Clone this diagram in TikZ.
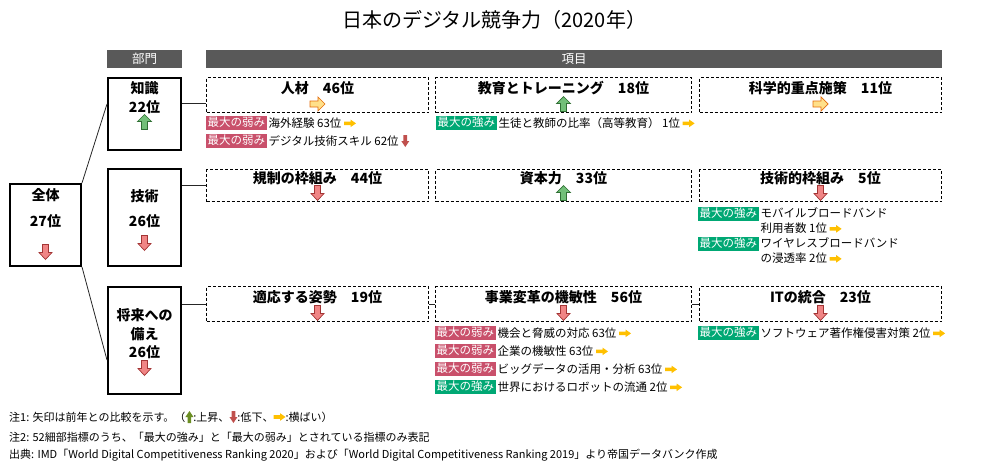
\documentclass[tikz,border=0pt]{standalone}
\usepackage{fontspec}
\setmainfont{Noto Sans CJK JP}
\usepackage{tikz}
\usetikzlibrary{positioning}
\definecolor{HDR_GRAY}{HTML}{595959}
\definecolor{WEAK_RED}{HTML}{C9506B}
\definecolor{STRONG_GREEN}{HTML}{00A874}
\definecolor{ARR_GREEN}{HTML}{72BF78}
\definecolor{ARR_GREEN_D}{HTML}{2F6E33}
\definecolor{ARR_RED}{HTML}{F08585}
\definecolor{ARR_RED_D}{HTML}{A33535}
\definecolor{ARR_ORANGE}{HTML}{FFE08A}
\definecolor{ARR_ORANGE_D}{HTML}{E36C0A}
\definecolor{ARR_YELLOW}{HTML}{FFC000}
\definecolor{ARR_BROWN}{HTML}{C0504D}
\definecolor{ARR_OLIVE}{HTML}{6B8E23}

% small arrows set inside text
\newcommand{\inlineyellow}{\tikz[x=1pt,y=1pt,baseline=-4pt]\fill[ARR_YELLOW] (-6,1.8) -- (0.5,1.8) -- (0.5,3.8) -- (6,0) -- (0.5,-3.8) -- (0.5,-1.8) -- (-6,-1.8) -- cycle;}
\newcommand{\inlinebrown}{\tikz[x=1pt,y=1pt,baseline=-4pt]\fill[ARR_BROWN] (-1.8,6) -- (1.8,6) -- (1.8,0) -- (4,0) -- (0,-6) -- (-4,0) -- (-1.8,0) -- cycle;}
\newcommand{\inlineolive}{\tikz[x=1pt,y=1pt,baseline=-4pt]\fill[ARR_OLIVE] (-1.8,-6) -- (1.8,-6) -- (1.8,0) -- (4,0) -- (0,6) -- (-4,0) -- (-1.8,0) -- cycle;}

% rank arrows (drawn with y pointing down)
\tikzset{
  uparr/.pic={\draw[ARR_GREEN_D, fill=ARR_GREEN, line width=0.7pt] (0,-7.5) -- (7,-0.5) -- (3,-0.5) -- (3,7.5) -- (-3,7.5) -- (-3,-0.5) -- (-7,-0.5) -- cycle;},
  downarr/.pic={\draw[ARR_RED_D, fill=ARR_RED, line width=0.7pt] (0,7.5) -- (6.5,0.5) -- (3,0.5) -- (3,-7.5) -- (-3,-7.5) -- (-3,0.5) -- (-6.5,0.5) -- cycle;},
  rightarr/.pic={\draw[ARR_ORANGE_D, fill=ARR_ORANGE, line width=0.7pt] (7.5,0) -- (0.5,7) -- (0.5,3) -- (-7.5,3) -- (-7.5,-3) -- (0.5,-3) -- (0.5,-7) -- cycle;}
}

\begin{document}
\begin{tikzpicture}[x=1pt, y=-1pt,
    hdr/.style={fill=HDR_GRAY, text=white, minimum height=18pt, inner sep=0pt, font=\fontsize{12.5}{14}\selectfont},
    secbox/.style={draw, line width=2.4pt, minimum width=72.6pt, inner sep=0pt},
    itembox/.style={draw, line width=0.9pt, dash pattern=on 3pt off 2pt, inner sep=0pt},
    boldtxt/.style={font=\fontsize{14}{16}\selectfont\bfseries, inner sep=0pt},
    tagweak/.style={fill=WEAK_RED, text=white, anchor=west, inner xsep=1.5pt, inner ysep=1.2pt, text height=9.8pt, text depth=2.2pt, font=\fontsize{11.5}{14}\selectfont},
    tagstrong/.style={tagweak, fill=STRONG_GREEN},
    itemtxt/.style={inner xsep=1.5pt, inner ysep=1.2pt, font=\fontsize{11.5}{15}\selectfont, align=left},
    notetxt/.style={anchor=west, inner sep=0pt, font=\fontsize{11}{13}\selectfont},
    link/.style={line width=0.8pt, black!85}]
  \useasboundingbox (0,0) rectangle (989,471);

  % Title and headers
  \node[font=\fontsize{20}{24}\selectfont] (title) at (494,20) {日本のデジタル競争力（2020年）};
  \node[hdr, minimum width=75pt] (hbumon) at (144.5,59) {部門};
  \node[hdr, minimum width=736pt] (hkoumoku) at (574,59) {項目};

  % Overall
  \node[secbox, minimum width=70.6pt, minimum height=81.6pt] (zentai) at (45.5,225) {};
  \node[boldtxt] (zentaiN) at (45.5,195) {全体};
  \node[boldtxt] (zentaiR) at (45.5,221) {27位};
  \pic at (45.5,252) {downarr};

  % Divisions
  \node[secbox, minimum height=71.6pt] (chishiki) at (144.5,114) {};
  \node[boldtxt] (chishikiN) at (144.5,88) {知識};
  \node[boldtxt] (chishikiR) at (144.5,107) {22位};
  \pic at (144.5,122) {uparr};

  \node[secbox, minimum height=96.6pt] (gijutsu) at (144.5,217.5) {};
  \node[boldtxt] (gijutsuN) at (144.5,196) {技術};
  \node[boldtxt] (gijutsuR) at (144.5,221) {26位};
  \pic at (144.5,243) {downarr};

  \node[secbox, minimum height=106.6pt] (shorai) at (144.5,340.5) {};
  \node[boldtxt] (shoraiN1) at (144.5,315) {将来への};
  \node[boldtxt] (shoraiN2) at (144.5,334) {備え};
  \node[boldtxt] (shoraiR) at (144.5,352) {26位};
  \pic at (144.5,368) {downarr};

  % Factor boxes
  \node[itembox, minimum width=222pt, minimum height=35pt] (jinzai) at (317.5,95) {};
  \node[itembox, minimum width=256pt, minimum height=35pt] (kyoiku) at (563.5,95) {};
  \node[itembox, minimum width=242pt, minimum height=35pt] (kagaku) at (820.5,95) {};
  \node[itembox, minimum width=222pt, minimum height=32pt] (kisei) at (317.5,185.5) {};
  \node[itembox, minimum width=256pt, minimum height=32pt] (shihon) at (563.5,185.5) {};
  \node[itembox, minimum width=242pt, minimum height=32pt] (gwaku) at (820.5,185.5) {};
  \node[itembox, minimum width=222pt, minimum height=35pt] (tekio) at (317.5,304) {};
  \node[itembox, minimum width=256pt, minimum height=35pt] (jigyo) at (563.5,304) {};
  \node[itembox, minimum width=242pt, minimum height=35pt] (itogo) at (820.5,304) {};

  \node[boldtxt] (jinzaiT) at (317.5,88) {人材　46位};
  \node[boldtxt] (kyoikuT) at (563.5,88) {教育とトレーニング　18位};
  \node[boldtxt] (kagakuT) at (820.5,88) {科学的重点施策　11位};
  \pic at (317.5,104) {rightarr};
  \pic at (563.5,104) {uparr};
  \pic at (820.5,104) {rightarr};

  \node[boldtxt] (kiseiT) at (317.5,178) {規制の枠組み　44位};
  \node[boldtxt] (shihonT) at (563.5,178) {資本力　33位};
  \node[boldtxt] (gwakuT) at (820.5,178) {技術的枠組み　5位};
  \pic at (317.5,193) {downarr};
  \pic at (563.5,193) {uparr};
  \pic at (820.5,193) {downarr};

  \node[boldtxt] (tekioT) at (317.5,297) {適応する姿勢　19位};
  \node[boldtxt] (jigyoT) at (563.5,297) {事業変革の機敏性　56位};
  \node[boldtxt] (itogoT) at (820.5,297) {ITの統合　23位};
  \pic at (317.5,313) {downarr};
  \pic at (563.5,313) {downarr};
  \pic at (820.5,313) {downarr};

  % Connectors
  \draw[link] (zentai.north east) -- ([yshift=10pt]chishiki.west);
  \draw[link] (zentai.south east) -- ([yshift=-19.5pt]shorai.west);
  \coordinate (jinzaiIn) at ([yshift=-8pt]jinzai.west);
  \draw[link] (chishiki.east |- jinzaiIn) -- (jinzaiIn);
  \draw[link] (gijutsu.east |- kisei.west) -- (kisei.west);
  \draw[link] (shorai.east |- tekio.west) -- (tekio.west);
  \draw[link] (tekio.east) -- (jigyo.west);
  \draw[link] (jigyo.east) -- (itogo.west);

  % Strongest / weakest indicators
  \node[tagweak] (jw1) at (206,123) {最大の弱み};
  \node[itemtxt, right=0pt of jw1] (jw1t) {海外経験 63位 \inlineyellow};
  \node[tagweak] (jw2) at (206,141) {最大の弱み};
  \node[itemtxt, right=0pt of jw2] (jw2t) {デジタル技術スキル 62位 \inlinebrown};
  \node[tagstrong] (ks1) at (436,123) {最大の強み};
  \node[itemtxt, right=0pt of ks1] (ks1t) {生徒と教師の比率（高等教育） 1位 \inlineyellow};

  \node[tagstrong] (gs1) at (698,214) {最大の強み};
  \node[itemtxt, anchor=north west] (gs1t) at (gs1.north east) {モバイルブロードバンド\\利用者数 1位 \inlineyellow};
  \node[tagstrong] (gs2) at (698,244) {最大の強み};
  \node[itemtxt, anchor=north west] (gs2t) at (gs2.north east) {ワイヤレスブロードバンド\\の浸透率 2位 \inlineyellow};

  \node[tagweak] (jg1) at (435,333) {最大の弱み};
  \node[itemtxt, right=0pt of jg1] (jg1t) {機会と脅威の対応 63位 \inlineyellow};
  \node[tagweak] (jg2) at (435,351) {最大の弱み};
  \node[itemtxt, right=0pt of jg2] (jg2t) {企業の機敏性 63位 \inlineyellow};
  \node[tagweak] (jg3) at (435,369) {最大の弱み};
  \node[itemtxt, right=0pt of jg3] (jg3t) {ビッグデータの活用・分析 63位 \inlineyellow};
  \node[tagstrong] (jg4) at (435,387) {最大の強み};
  \node[itemtxt, right=0pt of jg4] (jg4t) {世界におけるロボットの流通 2位 \inlineyellow};

  \node[tagstrong] (it1) at (698,333) {最大の強み};
  \node[itemtxt, right=0pt of it1] (it1t) {ソフトウェア著作権侵害対策 2位 \inlineyellow};

  % Notes
  \node[notetxt] (note1) at (9,417) {注1: 矢印は前年との比較を示す。（\inlineolive:上昇、\inlinebrown:低下、\inlineyellow:横ばい）};
  \node[notetxt] (note2) at (9,437) {注2: 52細部指標のうち、「最大の強み」と「最大の弱み」とされている指標のみ表記};
  \node[notetxt] (note3) at (9,455) {出典: IMD「World Digital Competitiveness Ranking 2020」および「World Digital Competitiveness Ranking 2019」より帝国データバンク作成};
\end{tikzpicture}
\end{document}
